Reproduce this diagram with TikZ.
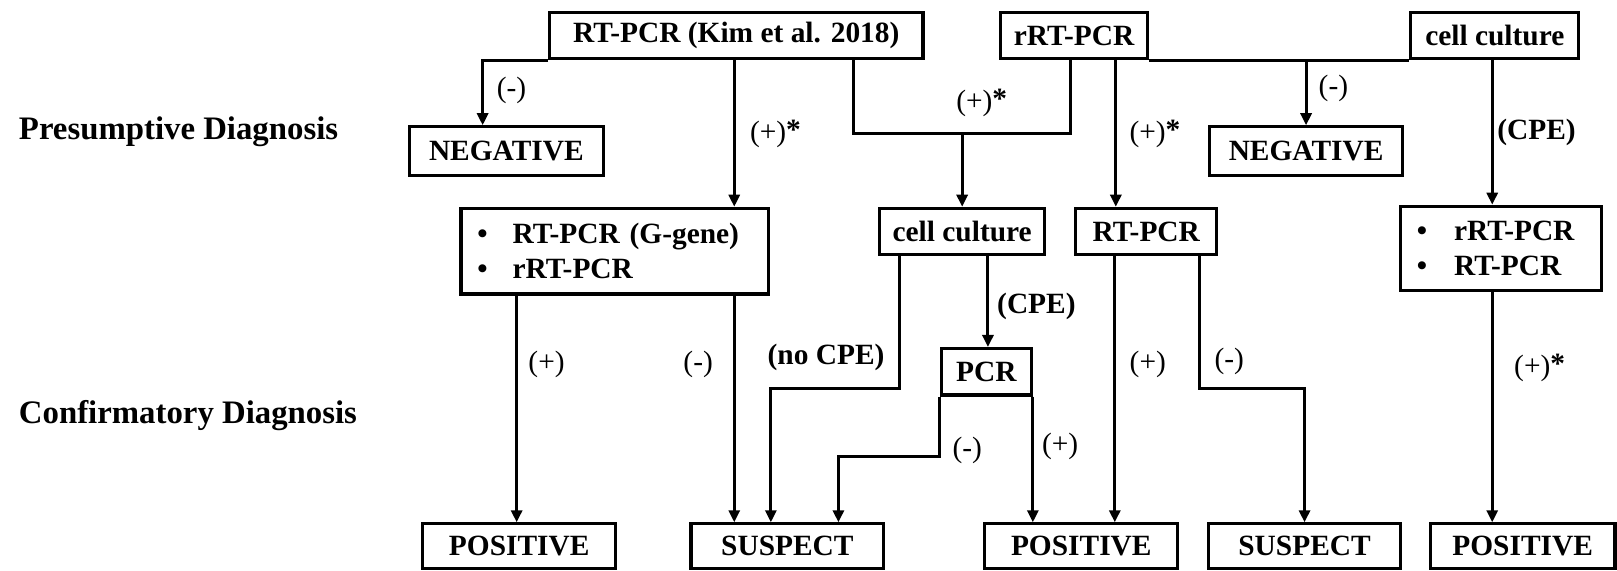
\documentclass[tikz,border=0pt]{standalone}
\usepackage{fontspec}
\setmainfont{Liberation Serif}
\usetikzlibrary{arrows.meta,calc}
\newdimen\unitpx \unitpx=0.5156pt
\newcommand{\boxfont}{\fontsize{14.7pt}{17.6pt}\selectfont\bfseries}
\newcommand{\labfont}{\fontsize{14.7pt}{17.6pt}\selectfont}
\newcommand{\sidefont}{\fontsize{16.4pt}{20pt}\selectfont\bfseries}
\newcommand{\pstar}{(+)\raisebox{1pt}{\textbf{*}}}
\begin{document}
\begin{tikzpicture}[x=0.5156pt,y=-0.5156pt,
  box/.style={draw, line width=1.6pt, inner sep=0pt, font=\boxfont, minimum height=45*\unitpx},
  bbox/.style={draw, line width=1.6pt, inner xsep=16*\unitpx, inner ysep=0pt, font=\boxfont, align=left, minimum height=83*\unitpx},
  conn/.style={line width=1.5pt},
  arr/.style={conn, -{Triangle[length=6pt,width=5.5pt]}},
  lab/.style={inner sep=0pt, font=\labfont},
  blab/.style={inner sep=0pt, font=\boxfont},
  side/.style={inner sep=0pt, font=\sidefont, anchor=west}]
\useasboundingbox (0,0) rectangle (1568,553);

% side labels
\node[side] (pres) at (18,128) {Presumptive Diagnosis};
\node[side] (conf) at (18,403) {Confirmatory Diagnosis};

% top row
\node[box, minimum width=362*\unitpx] (kim) at (714,34.5) {RT-PCR (Kim et al. 2018)};
\node[box, minimum width=143*\unitpx] (rrt) at (1041.5,34.5) {rRT-PCR};
\node[box, minimum width=163*\unitpx] (cc1) at (1449.5,34.5) {cell culture};

% negatives
\node[box, minimum width=188*\unitpx, minimum height=47*\unitpx] (neg1) at (491,146.5) {NEGATIVE};
\node[box, minimum width=187*\unitpx, minimum height=47*\unitpx] (neg2) at (1266.5,146.5) {NEGATIVE};

% middle row
\node[bbox, text width=266*\unitpx] (gg) at (596,243.5)
  {\makebox[34\unitpx][l]{•}RT-PCR (G-gene)\\\makebox[34\unitpx][l]{•}rRT-PCR};
\node[box, minimum width=160*\unitpx] (cc2) at (933,224.5) {cell culture};
\node[box, minimum width=137*\unitpx] (rt2) at (1111.5,224.5) {RT-PCR};
\node[bbox, text width=163*\unitpx, minimum height=82*\unitpx] (rr3) at (1455.5,241)
  {\makebox[36\unitpx][l]{•}rRT-PCR\\\makebox[36\unitpx][l]{•}RT-PCR};
\node[box, minimum width=87*\unitpx] (pcr) at (956.5,360.5) {PCR};

% bottom row
\node[box, minimum width=187*\unitpx, minimum height=43*\unitpx] (pos1) at (503.5,529.5) {POSITIVE};
\node[box, minimum width=187*\unitpx, minimum height=43*\unitpx] (sus1) at (763.5,529.5) {SUSPECT};
\node[box, minimum width=187*\unitpx, minimum height=43*\unitpx] (pos2) at (1048.5,529.5) {POSITIVE};
\node[box, minimum width=186*\unitpx, minimum height=43*\unitpx] (sus2) at (1265,529.5) {SUSPECT};
\node[box, minimum width=179*\unitpx, minimum height=43*\unitpx] (pos3) at (1476.5,529.5) {POSITIVE};

% connectors
\draw[arr] (kim.south west) -| ($(neg1.north)+(-23,0)$);
\draw[arr] ($(kim.south)+(-2,0)$) coordinate (k1) -- (k1 |- gg.north);
\draw[conn] ($(kim.south)+(114,0)$) -- ++(0,71) coordinate (jn) -| ($(rrt.south)+(-3.5,0)$);
\draw[arr] (jn -| cc2.north) -- (cc2.north);
\draw[arr] ($(rrt.south)+(40.5,0)$) coordinate (r1) -- (r1 |- rt2.north);
\draw[conn] (rrt.south east) -- (cc1.south west);
\draw[arr] (rrt.south east -| neg2.north) -- (neg2.north);
\draw[arr] ($(cc1.south)+(-2.5,0)$) coordinate (c1) -- (c1 |- rr3.north);

\draw[arr] ($(gg.south)+(-95,0)$) coordinate (g1) -- (g1 |- pos1.north);
\draw[arr] ($(gg.south)+(116,0)$) coordinate (g2) -- (g2 |- sus1.north);
\draw[arr] ($(cc2.south)+(-61,0)$) -- ++(0,128) -| ($(sus1.north)+(-16,0)$);
\draw[arr] ($(cc2.south)+(25,0)$) coordinate (c2) -- (c2 |- pcr.north);
\draw[arr] (pcr.south west) -- ++(0,58) -| ($(sus1.north)+(49.5,0)$);
\draw[arr] (pcr.south east) -- (pcr.south east |- pos2.north);
\draw[arr] ($(rt2.south)+(-30.5,0)$) coordinate (t1) -- (t1 |- pos2.north);
\draw[arr] ($(rt2.south)+(51.5,0)$) -- ++(0,128) -| (sus2.north);
\draw[arr] ($(rr3.south)+(-8.5,0)$) coordinate (r3) -- (r3 |- pos3.north);

% labels
\node[lab] (l1) at (496,88) {(-)};
\node[lab] (l2) at (752,130) {\pstar};
\node[lab] (l3) at (952,100) {\pstar};
\node[lab] (l4) at (1120,130) {\pstar};
\node[lab] (l5) at (1293,86) {(-)};
\node[blab] (l6) at (1490,128) {(CPE)};
\node[lab] (l7) at (530,353) {(+)};
\node[lab] (l8) at (677,353) {(-)};
\node[blab] (l9) at (801,347) {(no CPE)};
\node[blab] (l10) at (1005,297) {(CPE)};
\node[lab] (l11) at (938,437) {(-)};
\node[lab] (l12) at (1028,433) {(+)};
\node[lab] (l13) at (1113,353) {(+)};
\node[lab] (l14) at (1192,350) {(-)};
\node[lab] (l15) at (1493,357) {\pstar};
\end{tikzpicture}
\end{document}
